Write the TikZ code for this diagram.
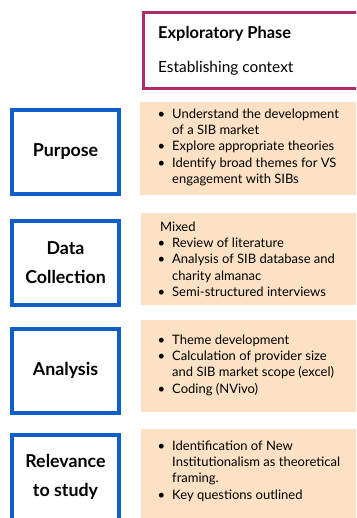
\documentclass[tikz,border=0pt]{standalone}
\usepackage{fontspec}
\setmainfont{Lato}

\definecolor{stageblue}{RGB}{16,94,200}
\definecolor{phasemagenta}{RGB}{174,44,108}
\definecolor{notepeach}{RGB}{252,225,196}

% bullet and continuation indent for the note lists
\newcommand{\bl}{\makebox[15pt][l]{\hspace{0.5pt}\textbullet}}
\newcommand{\ind}{\hspace*{15pt}}
\newcommand{\topstrut}{\rule{0pt}{11pt}}

\begin{document}
\begin{tikzpicture}[x=1pt,y=-1pt,
  stagebox/.style={draw=stageblue, line width=4pt, fill=white,
    minimum width=107pt, minimum height=84pt, inner sep=0pt,
    align=center, font=\fontsize{17.8}{29}\selectfont\bfseries},
  notebox/.style={fill=notepeach, anchor=north west, inner sep=0pt,
    minimum width=230pt},
  notetext/.style={anchor=north west, inner sep=0pt, align=left,
    font=\fontsize{13}{16.3}\selectfont},
  phasebox/.style={draw=phasemagenta, line width=3pt, fill=white,
    anchor=north west, inner sep=0pt, minimum width=240pt, minimum height=76pt},
]
\clip (0,0) rectangle (356,518);
\fill[white] (0,0) rectangle (356,518);

% phase header
\node[phasebox] (phase) at (141.5,11.5) {};
\node[anchor=base west, inner sep=0pt, font=\fontsize{16.4}{19}\selectfont\bfseries]
  (phasetitle) at (158,38.5) {Exploratory Phase};
\node[anchor=base west, inner sep=0pt, font=\fontsize{15.4}{18}\selectfont]
  (phasesub) at (158,73) {Establishing context};

% stage labels
\node[stagebox] (purpose)   at (65.5,152)   {Purpose};
\node[stagebox] (data)      at (65.5,263)   {Data\\Collection};
\node[stagebox] (analysis)  at (65.5,370.5) {Analysis};
\node[stagebox, minimum height=92pt] (relevance) at (65.5,481) {};
\node[inner sep=0pt, align=center, font=\fontsize{17.8}{29}\selectfont\bfseries]
  (relevancelabel) at (65.5,477) {Relevance\\to study};

% note panels
\node[notebox, minimum height=93pt]  (purposenote)   at (140,102) {};
\node[notebox, minimum height=92pt]  (datanote)      at (141,213) {};
\node[notebox, minimum height=92pt]  (analysisnote)  at (141,320) {};
\node[notebox, minimum height=100pt] (relevancenote) at (141,429) {};

% note texts
\node[notetext] (purposetext) at (157,107) {\topstrut\bl Understand the development\\
  \ind of a SIB market\\
  \bl Explore appropriate theories\\
  \bl Identify broad themes for VS\\
  \ind engagement with SIBs};
\node[notetext] (datatext) at (157,220) {\topstrut\hspace*{3pt}Mixed\\
  \bl Review of literature\\
  \bl Analysis of SIB database and\\
  \ind charity almanac\\
  \bl Semi-structured interviews};
\node[notetext] (analysistext) at (157,333) {\topstrut\bl Theme development\\
  \bl Calculation of provider size\\
  \ind and SIB market scope (excel)\\
  \bl Coding (NVivo)};
\node[notetext] (relevancetext) at (157,439) {\topstrut\bl Identification of New\\
  \ind Institutionalism as theoretical\\
  \ind framing.\\
  \bl Key questions outlined};
\end{tikzpicture}
\end{document}
